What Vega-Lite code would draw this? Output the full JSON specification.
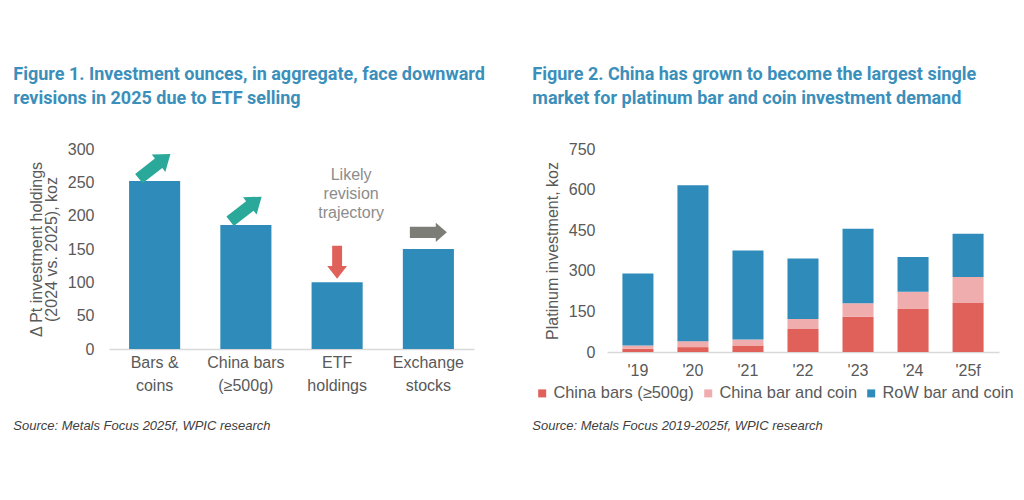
{
  "$schema": "https://vega.github.io/schema/vega-lite/v6.json",
  "background": "white",
  "padding": {"left": 13, "top": 66, "right": 5, "bottom": 5},
  "spacing": 47,
  "resolve": {"scale": {"color": "independent"}, "legend": {"color": "independent"}},
  "config": {
    "view": {"stroke": null},
    "font": "Liberation Sans",
    "axis": {
      "labelFont": "Liberation Sans", "labelFontSize": 16, "labelColor": "#595959",
      "titleFont": "Liberation Sans", "titleFontSize": 16, "titleColor": "#595959", "titleFontWeight": "normal",
      "grid": false, "ticks": false, "domain": false, "labelOverlap": false
    },
    "legend": {"labelFont": "Liberation Sans", "labelFontSize": 16.4, "labelColor": "#595959"}
  },
  "hconcat": [
    {
      "title": {
        "text": ["Figure 1. Investment ounces, in aggregate, face downward", "revisions in 2025 due to ETF selling"],
        "anchor": "start", "font": "Roboto", "fontSize": 18, "fontWeight": "bold", "color": "#3a8fbb",
        "lineHeight": 24, "offset": 33
      },
      "vconcat": [
        {
          "width": 365, "height": 200,
          "title": {
            "text": "Source: Metals Focus 2025f, WPIC research", "orient": "bottom", "anchor": "start",
            "font": "Liberation Sans", "fontStyle": "italic", "fontSize": 13, "fontWeight": "normal",
            "color": "#404040", "offset": 27, "dx": -15
          },
          "data": {"values": [
            {"category": "Bars & coins", "value": 252, "trend": "up", "arrow_at": 274},
            {"category": "China bars (≥500g)", "value": 186, "trend": "up", "arrow_at": 210},
            {"category": "ETF holdings", "value": 100, "trend": "down", "arrow_at": 130},
            {"category": "Exchange stocks", "value": 150, "trend": "flat", "arrow_at": 175}
          ]},
          "encoding": {
            "x": {
              "field": "category", "type": "nominal", "sort": null,
              "scale": {"paddingInner": 0.44, "paddingOuter": 0.22},
              "axis": {
                "title": null, "labelAngle": 0, "domain": true, "domainColor": "#d9d9d9", "domainWidth": 1.5,
                "labelPadding": 5, "labelLineHeight": 23,
                "labelExpr": "datum.value == 'Bars & coins' ? ['Bars &', 'coins'] : datum.value == 'China bars (≥500g)' ? ['China bars', '(≥500g)'] : datum.value == 'ETF holdings' ? ['ETF', 'holdings'] : ['Exchange', 'stocks']"
              }
            }
          },
          "layer": [
            {
              "mark": {"type": "bar", "color": "#2f8cba"},
              "encoding": {
                "y": {
                  "field": "value", "type": "quantitative",
                  "scale": {"domain": [0, 300]},
                  "axis": {
                    "values": [0, 50, 100, 150, 200, 250, 300],
                    "title": ["Δ Pt investment holdings", "(2024 vs. 2025), koz"],
                    "titleLineHeight": 15, "titlePadding": 8, "labelPadding": 15
                  }
                }
              }
            },
            {
              "transform": [{"filter": "datum.trend == 'up'"}],
              "mark": {"type": "point", "filled": true, "opacity": 1, "color": "#2aa89a", "size": 1600, "angle": 52,
                       "shape": "M-0.3,1 L0.3,1 L0.3,-0.25 L0.55,-0.25 L0,-1 L-0.55,-0.25 L-0.3,-0.25 Z"},
              "encoding": {"y": {"field": "arrow_at", "type": "quantitative", "axis": {
                    "values": [0, 50, 100, 150, 200, 250, 300],
                    "title": ["Δ Pt investment holdings", "(2024 vs. 2025), koz"],
                    "titleLineHeight": 15, "titlePadding": 8, "labelPadding": 15
                  }}}
            },
            {
              "transform": [{"filter": "datum.trend == 'down'"}],
              "mark": {"type": "point", "filled": true, "opacity": 1, "color": "#e0605a", "size": 1089, "angle": 180,
                       "shape": "M-0.3,1 L0.3,1 L0.3,-0.22 L0.6,-0.22 L0,-1 L-0.6,-0.22 L-0.3,-0.22 Z"},
              "encoding": {"y": {"field": "arrow_at", "type": "quantitative", "axis": {
                    "values": [0, 50, 100, 150, 200, 250, 300],
                    "title": ["Δ Pt investment holdings", "(2024 vs. 2025), koz"],
                    "titleLineHeight": 15, "titlePadding": 8, "labelPadding": 15
                  }}}
            },
            {
              "transform": [{"filter": "datum.trend == 'flat'"}],
              "mark": {"type": "point", "filled": true, "opacity": 1, "color": "#7d7d78", "size": 1369, "angle": 90,
                       "shape": "M-0.3,1 L0.3,1 L0.3,-0.4 L0.52,-0.4 L0,-1 L-0.52,-0.4 L-0.3,-0.4 Z"},
              "encoding": {"y": {"field": "arrow_at", "type": "quantitative", "axis": {
                    "values": [0, 50, 100, 150, 200, 250, 300],
                    "title": ["Δ Pt investment holdings", "(2024 vs. 2025), koz"],
                    "titleLineHeight": 15, "titlePadding": 8, "labelPadding": 15
                  }}}
            },
            {
              "data": {"values": [{"category": "ETF holdings", "note": "Likely\nrevision\ntrajectory", "note_at": 261}]},
              "mark": {"type": "text", "lineBreak": "\n", "lineHeight": 19, "fontSize": 16, "color": "#8c8c8c", "dx": 14, "font": "Liberation Sans"},
              "encoding": {
                "y": {"field": "note_at", "type": "quantitative", "axis": {
                    "values": [0, 50, 100, 150, 200, 250, 300],
                    "title": ["Δ Pt investment holdings", "(2024 vs. 2025), koz"],
                    "titleLineHeight": 15, "titlePadding": 8, "labelPadding": 15
                  }},
                "text": {"field": "note"}
              }
            }
          ]
        }
      ]
    },
    {
      "title": {
        "text": ["Figure 2. China has grown to become the largest single", "market for platinum bar and coin investment demand"],
        "anchor": "start", "font": "Roboto", "fontSize": 18, "fontWeight": "bold", "color": "#3a8fbb",
        "lineHeight": 24, "offset": 33
      },
      "vconcat": [
        {
          "width": 392, "height": 203,
          "title": {
            "text": "Source: Metals Focus 2019-2025f, WPIC research", "orient": "bottom", "anchor": "start",
            "font": "Liberation Sans", "fontStyle": "italic", "fontSize": 13, "fontWeight": "normal",
            "color": "#404040", "offset": 42, "dx": -12
          },
          "data": {"values": [
            {"year": "'19", "series": "China bars (≥500g)", "stack_order": 1, "value": 12},
            {"year": "'19", "series": "China bar and coin", "stack_order": 2, "value": 12},
            {"year": "'19", "series": "RoW bar and coin", "stack_order": 3, "value": 266},
            {"year": "'20", "series": "China bars (≥500g)", "stack_order": 1, "value": 18},
            {"year": "'20", "series": "China bar and coin", "stack_order": 2, "value": 22},
            {"year": "'20", "series": "RoW bar and coin", "stack_order": 3, "value": 576},
            {"year": "'21", "series": "China bars (≥500g)", "stack_order": 1, "value": 24},
            {"year": "'21", "series": "China bar and coin", "stack_order": 2, "value": 22},
            {"year": "'21", "series": "RoW bar and coin", "stack_order": 3, "value": 329},
            {"year": "'22", "series": "China bars (≥500g)", "stack_order": 1, "value": 85},
            {"year": "'22", "series": "China bar and coin", "stack_order": 2, "value": 37},
            {"year": "'22", "series": "RoW bar and coin", "stack_order": 3, "value": 223},
            {"year": "'23", "series": "China bars (≥500g)", "stack_order": 1, "value": 130},
            {"year": "'23", "series": "China bar and coin", "stack_order": 2, "value": 50},
            {"year": "'23", "series": "RoW bar and coin", "stack_order": 3, "value": 275},
            {"year": "'24", "series": "China bars (≥500g)", "stack_order": 1, "value": 159},
            {"year": "'24", "series": "China bar and coin", "stack_order": 2, "value": 64},
            {"year": "'24", "series": "RoW bar and coin", "stack_order": 3, "value": 128},
            {"year": "'25f", "series": "China bars (≥500g)", "stack_order": 1, "value": 183},
            {"year": "'25f", "series": "China bar and coin", "stack_order": 2, "value": 94},
            {"year": "'25f", "series": "RoW bar and coin", "stack_order": 3, "value": 160}
          ]},
          "mark": {"type": "bar"},
          "encoding": {
            "x": {
              "field": "year", "type": "nominal", "sort": null,
              "scale": {"paddingInner": 0.436, "paddingOuter": 0.28},
              "axis": {"title": null, "labelAngle": 0, "domain": true, "domainColor": "#d9d9d9", "domainWidth": 1.5, "labelPadding": 10}
            },
            "y": {
              "field": "value", "type": "quantitative", "stack": "zero",
              "scale": {"domain": [0, 750]},
              "axis": {"values": [0, 150, 300, 450, 600, 750], "title": "Platinum investment, koz", "titlePadding": 8, "labelPadding": 12}
            },
            "order": {"field": "stack_order", "type": "quantitative", "sort": "ascending"},
            "color": {
              "field": "series", "type": "nominal",
              "sort": ["China bars (≥500g)", "China bar and coin", "RoW bar and coin"],
              "scale": {"domain": ["China bars (≥500g)", "China bar and coin", "RoW bar and coin"], "range": ["#e0605a", "#f0adad", "#2f8cba"]},
              "legend": {"orient": "none", "legendX": -73, "legendY": 236, "direction": "horizontal", "title": null,
                         "symbolType": "square", "symbolSize": 64, "columnPadding": 6, "labelOffset": 3}
            }
          }
        }
      ]
    }
  ]
}
